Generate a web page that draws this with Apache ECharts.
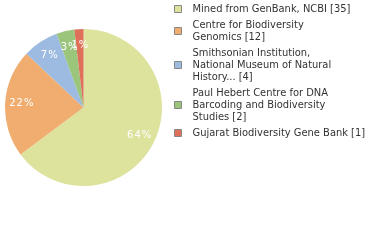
<!DOCTYPE html>
<html><head><meta charset="utf-8">
<script src="https://cdn.jsdelivr.net/npm/echarts@6/dist/echarts.min.js"></script>
<style>html,body{margin:0;padding:0;background:#fff}#c{width:380px;height:240px}</style>
</head><body><div id="c"></div>
<script>
const categories = [
  "Mined from GenBank, NCBI",
  "Centre for Biodiversity\nGenomics",
  "Smithsonian Institution,\nNational Museum of Natural\nHistory...",
  "Paul Hebert Centre for DNA\nBarcoding and Biodiversity\nStudies",
  "Gujarat Biodiversity Gene Bank"
];
const values = [35, 12, 4, 2, 1];
const colors = ["#dde29c", "#f0ad6f", "#9dbbe0", "#9bc57b", "#de6f59"];

const total = values.reduce((a, b) => a + b, 0);
const data = categories.map((n, i) => ({ name: n, value: values[i], itemStyle: { color: colors[i] } }));
const labelData = categories.map((n, i) => ({ name: n, value: values[i] }));

const chart = echarts.init(document.getElementById('c'), null, { renderer: 'canvas' });
chart.setOption({
  animation: false,
  legend: {
    orient: 'vertical',
    left: 174, top: 3,
    padding: 0,
    itemWidth: 7, itemHeight: 7,
    itemGap: 4,
    icon: 'rect',
    itemStyle: { borderColor: '#888', borderWidth: 1 },
    textStyle: { fontFamily: 'DejaVu Sans Condensed', fontSize: 11, color: '#333', lineHeight: 12, padding: [0, 0, 0, 6] },
    formatter: function (name) {
      const i = categories.indexOf(name);
      return name + ' [' + values[i] + ']';
    },
    data: categories
  },
  series: [{
    type: 'pie',
    center: [83.5, 107.5],
    radius: [0, 78.5],
    startAngle: 90,
    clockwise: true,
    silent: true,
    label: { show: false },
    labelLine: { show: false },
    data: data
  }, {
    type: 'pie',
    center: [83.5, 107.5],
    radius: [40, 78.5],
    startAngle: 90,
    clockwise: true,
    silent: true,
    legendHoverLink: false,
    itemStyle: { color: 'rgba(0,0,0,0)' },
    label: {
      show: true, position: 'inside',
      color: '#fff', fontFamily: 'DejaVu Sans', fontSize: 10,
      formatter: function (p) { return Math.floor(p.value / total * 100).toString().split('').join('\u200A') + '\u200A%'; }
    },
    labelLine: { show: false },
    labelLayout: { hideOverlap: false },
    data: labelData
  }]
});
</script></body></html>
